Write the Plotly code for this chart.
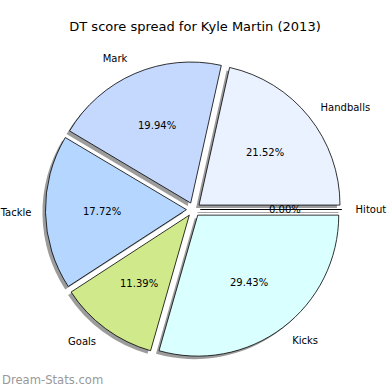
import math
import plotly.graph_objects as go

labels = ["Hitout", "Handballs", "Mark", "Tackle", "Goals", "Kicks"]
values = [0, 68, 63, 56, 36, 93]
colors = ["#ffffff", "#eaf1ff", "#c5d9ff", "#b5d7ff", "#d0ea8b", "#d9ffff"]
title_text = "DT score spread for Kyle Martin (2013)"
watermark = "Dream-Stats.com"

W = H = 390
explode = 0.05
cx_px, cy_px, R_px = 193.5, 209.5, 141
d_px = explode * R_px
sh_dx, sh_dy = -3, 3


def dom(radius, pull, dx=0, dy=0):
    half = radius * (1 + pull)
    x0 = (cx_px + dx - half) / W
    x1 = (cx_px + dx + half) / W
    y0 = (H - (cy_px + dy) - half) / H
    y1 = (H - (cy_px + dy) + half) / H
    return dict(x=[x0, x1], y=[y0, y1])


def to_paper(px, py):
    return px / W, (H - py) / H


FONT = "DejaVu Sans"
n = len(values)
common = dict(labels=labels, values=values, sort=False,
              direction="counterclockwise", rotation=90, showlegend=False)

fig = go.Figure()
# shadow
fig.add_trace(go.Pie(
    **common, pull=[explode] * n, domain=dom(R_px, explode, sh_dx, sh_dy),
    marker=dict(colors=["#9c9c9c"] * n, line=dict(width=0)),
    textinfo="none", hoverinfo="skip",
))
# main
fig.add_trace(go.Pie(
    **common, pull=[explode] * n, domain=dom(R_px, explode),
    marker=dict(colors=colors, line=dict(color="#000000", width=0.8)),
    textinfo="none",
    hovertemplate="%{label}: %{percent:.2%}<extra></extra>",
))
# outside category labels on a slightly larger invisible pie
R_lab = 1.08 * R_px
pull_lab = d_px / R_lab
fig.add_trace(go.Pie(
    **common, pull=[pull_lab] * n, domain=dom(R_lab, pull_lab),
    marker=dict(colors=["rgba(0,0,0,0)"] * n, line=dict(width=0)),
    texttemplate="%{label}", textposition="outside",
    textfont=dict(family=FONT, size=10, color="#000000"),
    hoverinfo="skip", automargin=False,
))

# percentage texts at 0.6 radius of each (exploded) wedge, like autopct
total = sum(values)
annotations = []
shapes = []
cum = 0
for lab, v in zip(labels, values):
    a0 = cum / total * 360
    a1 = (cum + v) / total * 360
    mid = math.radians((a0 + a1) / 2)
    ux, uy = math.cos(mid), -math.sin(mid)
    rr = d_px + 0.6 * R_px
    px, py = to_paper(cx_px + rr * ux, cy_px + rr * uy)
    annotations.append(dict(
        text=f"{v / total * 100:.2f}%", xref="paper", yref="paper",
        x=px, y=py, xanchor="center", yanchor="middle", showarrow=False,
        font=dict(family=FONT, size=10, color="#000000")))
    if v == 0:
        # zero-width wedge: only its edge line (and shadow) is visible
        for ox, oy, col in ((sh_dx, sh_dy, "#9c9c9c"), (0, 0, "#000000")):
            x0, y0 = to_paper(cx_px + ox + d_px * ux, cy_px + oy + d_px * uy)
            x1, y1 = to_paper(cx_px + ox + (d_px + R_px) * ux,
                              cy_px + oy + (d_px + R_px) * uy)
            shapes.append(dict(type="line", xref="paper", yref="paper",
                               x0=x0, y0=y0, x1=x1, y1=y1,
                               line=dict(color=col, width=0.9), layer="above"))
    cum += v

annotations.append(dict(text=watermark, x=0, y=10 / H, xref="paper", yref="paper",
                        xanchor="left", yanchor="middle", showarrow=False,
                        font=dict(family=FONT, size=11.6, color="#999999")))

fig.update_layout(
    width=W, height=H, margin=dict(l=0, r=0, t=0, b=0, pad=0, autoexpand=False),
    paper_bgcolor="white", plot_bgcolor="white", showlegend=False,
    title=dict(text=title_text, x=0.5, xanchor="center", y=1 - 26 / H, yanchor="middle",
               font=dict(family=FONT, size=13, color="#000000")),
    annotations=annotations, shapes=shapes,
)

fig.write_html("out.html", config={"displayModeBar": False},
               post_script="document.body.style.margin='0';")
